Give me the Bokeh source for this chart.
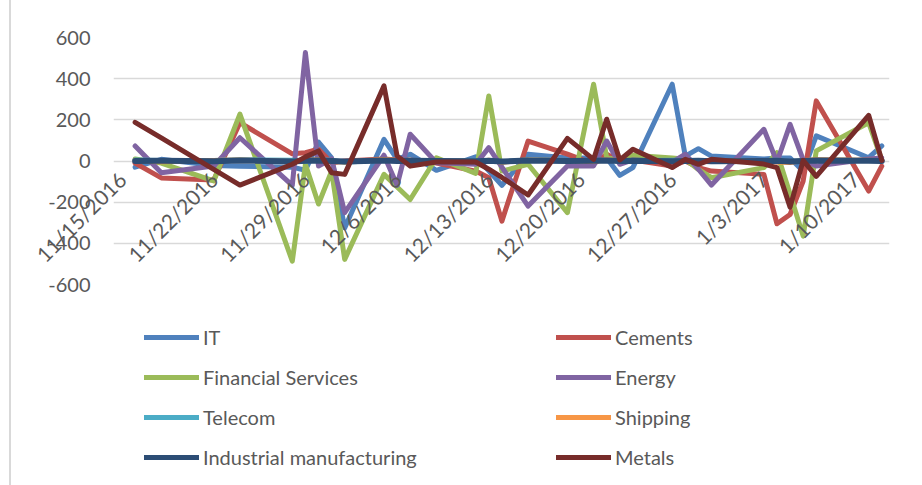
import math
import pandas as pd
from bokeh.plotting import figure
from bokeh.layouts import column
from bokeh.models import Range1d, LinearAxis, FixedTicker, Legend, LegendItem, ColumnDataSource
from bokeh.embed import file_html
from bokeh.resources import INLINE

dates = ["2016-11-16", "2016-11-18", "2016-11-22", "2016-11-24", "2016-11-28", "2016-11-29",
         "2016-11-30", "2016-12-01", "2016-12-02", "2016-12-05", "2016-12-06", "2016-12-07",
         "2016-12-09", "2016-12-12", "2016-12-13", "2016-12-14", "2016-12-16", "2016-12-19",
         "2016-12-21", "2016-12-22", "2016-12-23", "2016-12-24", "2016-12-27", "2016-12-28",
         "2016-12-29", "2016-12-30", "2017-01-03", "2017-01-04", "2017-01-05", "2017-01-06",
         "2017-01-07", "2017-01-11", "2017-01-12"]

it_vals = [-30, 8, -22, -25, -30, -45, 92, 15, -325, 105, 8, 33, -45, 20, -48, -118, 33, 15, 15, 15,
           -70, -32, 373, 24, 60, 24, 10, 15, 15, -50, 122, 16, 73]
cements = [-10, -82, -92, 186, 35, 40, 57, -8, 0, 10, 5, 5, -10, -49, -81, -292, 97, 33, -15, 33,
           0, 5, -25, 0, -32, -49, -65, -305, -260, -97, 292, -146, -25]
financial = [10, -10, -97, 228, -487, -16, -209, -49, -478, -65, -126, -187, 16, -60, 316, -49, -16,
             -251, 373, 16, 5, 28, 15, 8, -41, -81, -32, 40, -160, -365, 49, 186, 5]
energy = [73, -57, -24, 113, -118, 527, -24, 10, -251, 28, -118, 130, -8, -16, 65, -30, -219, -24,
          -24, 97, -16, 5, -5, 33, -40, -117, 154, -5, 178, 5, -24, 10, 15]
telecom = [5, 3, 2, 6, 4, -3, 8, 2, -6, 5, 3, 4, -2, 3, 2, -5, 6, 2, 3, 5, 1, 2, 4, 2, 3, -2, 2, 4,
           -3, 1, 5, 3, 2]
shipping = [2, -4, 3, 5, -3, 4, 6, -2, -5, 7, 2, 3, 1, -3, 4, -6, 5, 3, -2, 6, 2, 1, -3, 2, -4, 1,
            3, -5, -7, 2, 6, 4, 1]
industrial = [0, 1, -1, 2, -2, 1, 3, 0, -3, 2, 0, 1, 0, -1, 1, -2, 2, 0, 1, 2, 0, 1, -1, 0, 1, -1,
              0, 1, -2, 0, 2, 1, 0]
metals = [188, 112, -41, -117, -16, 20, 49, -57, -65, 365, 25, -25, -5, -5, -40, -80, -165, 110, 8,
          203, 5, 57, -32, 8, -16, 8, -15, -32, -224, 3, -75, 222, 3]

tick_labels = ["11/15/2016", "11/22/2016", "11/29/2016", "12/6/2016", "12/13/2016",
               "12/20/2016", "12/27/2016", "1/3/2017", "1/10/2017"]
y_ticks = [-600, -400, -200, 0, 200, 400, 600]

series = [
    ("IT", it_vals, "#4F81BD"),
    ("Cements", cements, "#C0504D"),
    ("Financial Services", financial, "#9BBB59"),
    ("Energy", energy, "#8064A2"),
    ("Telecom", telecom, "#4BACC6"),
    ("Shipping", shipping, "#F79646"),
    ("Industrial manufacturing", industrial, "#2C4D75"),
    ("Metals", metals, "#772C2A"),
]
legend_col1 = ["IT", "Financial Services", "Telecom", "Industrial manufacturing"]
legend_col2 = ["Cements", "Energy", "Shipping", "Metals"]

origin = pd.Timestamp("2016-11-15")
xs = [(pd.Timestamp(d) - origin).days for d in dates]
tick_days = [(t - origin).days for t in pd.to_datetime(tick_labels, format="%m/%d/%Y")]

FONT = "Lato"
TXT = "#595959"
GRID = "#D9D9D9"

p = figure(width=922, height=304, frame_width=776, frame_height=247,
           output_backend="svg", toolbar_location=None,
           x_range=Range1d(-0.65, 58.59), y_range=Range1d(-600, 600),
           min_border_left=113, min_border_right=33, min_border_top=37, min_border_bottom=20,
           x_axis_location=None, y_axis_location="left")
p.outline_line_color = None
p.background_fill_color = "white"
p.border_fill_color = None

p.yaxis.ticker = FixedTicker(ticks=y_ticks)
p.yaxis.major_label_overrides = {v: str(v) for v in y_ticks}
p.yaxis.axis_line_color = None
p.yaxis.major_tick_line_color = None
p.yaxis.minor_tick_line_color = None
p.yaxis.major_tick_out = 0
p.yaxis.major_tick_in = 0
p.yaxis.major_label_standoff = 23
p.yaxis.major_label_text_font = FONT
p.yaxis.major_label_text_font_size = "20px"
p.yaxis.major_label_text_color = TXT
p.ygrid.ticker = FixedTicker(ticks=y_ticks)
p.ygrid.grid_line_color = GRID
p.ygrid.grid_line_width = 1.5
p.xgrid.grid_line_color = None

xaxis = LinearAxis(ticker=FixedTicker(ticks=tick_days),
                   major_label_overrides={d: lab for d, lab in zip(tick_days, tick_labels)})
xaxis.axis_line_color = None
xaxis.major_tick_line_color = None
xaxis.minor_tick_line_color = None
xaxis.major_tick_out = 0
xaxis.major_tick_in = 0
xaxis.major_label_orientation = math.pi / 4
xaxis.major_label_standoff = -109
xaxis.major_label_text_font = FONT
xaxis.major_label_text_font_size = "21px"
xaxis.major_label_text_color = TXT
p.add_layout(xaxis, "below")

for name, vals, color in series:
    src = ColumnDataSource(dict(x=xs, y=vals))
    lw = 6 if name == "Industrial manufacturing" else 5
    p.line("x", "y", source=src, line_color=color, line_width=lw,
           line_join="round", line_cap="round")

# legend panel below the chart (legend proxies sit outside the visible range)
q = figure(width=922, height=181, output_backend="svg", toolbar_location=None,
           x_range=Range1d(0, 1), y_range=Range1d(0, 1),
           min_border_left=0, min_border_right=0, min_border_top=0, min_border_bottom=0,
           x_axis_location=None, y_axis_location=None)
q.outline_line_color = None
q.background_fill_color = None
q.border_fill_color = None
q.xgrid.visible = False
q.ygrid.visible = False
proxies = {}
for name, _, color in series:
    proxies[name] = q.line(x=[5, 6], y=[5, 6], line_color=color, line_width=5, line_cap="round")

def make_legend(names, vx):
    lg = Legend(items=[LegendItem(label=n, renderers=[proxies[n]]) for n in names],
                location=(vx, 16), orientation="vertical")
    lg.glyph_width = 55
    lg.glyph_height = 20
    lg.label_height = 20
    lg.spacing = 16
    lg.padding = 0
    lg.margin = 0
    lg.label_standoff = 4
    lg.border_line_color = None
    lg.background_fill_alpha = 0
    lg.label_text_font = FONT
    lg.label_text_font_size = "20px"
    lg.label_text_color = TXT
    return lg

q.add_layout(make_legend(legend_col1, 31))
q.add_layout(make_legend(legend_col2, 443))

layout = column(p, q, spacing=0, styles={
    "background": "linear-gradient(to right, #ffffff 9px, #d9d9d9 9px, #d9d9d9 11px, #ffffff 11px)"})
open("out.html", "w").write(file_html(layout, INLINE))
